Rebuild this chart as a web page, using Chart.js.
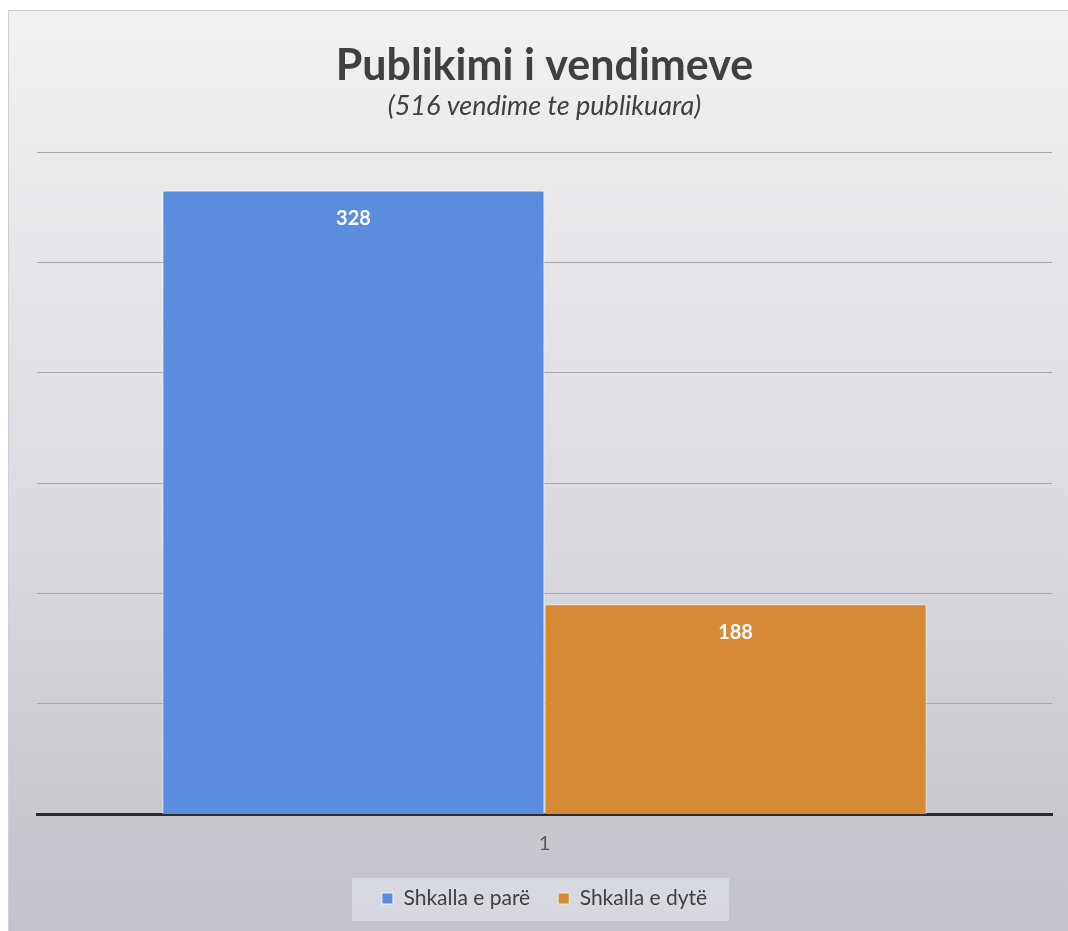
<!DOCTYPE html>
<html>
<head>
<meta charset="utf-8">
<title>Publikimi i vendimeve</title>
<script src="https://cdn.jsdelivr.net/npm/chart.js@4.4.0/dist/chart.umd.min.js"></script>
<style>
  html, body { margin: 0; padding: 0; background: #fff; }
  #wrap { width: 1068px; height: 931px; }
</style>
</head>
<body>
<div id="wrap"><canvas id="myChart" width="1068" height="931"></canvas></div>
<script>
// data
const categories = ['1'];
const seriesNames = ['Shkalla e parë', 'Shkalla e dytë'];
const firstLevel = [328];
const secondLevel = [188];
const chartTitle = 'Publikimi i vendimeve';
const chartSubtitle = '(516 vendime te publikuara)';
// the value axis is hidden and does not start at zero
const axisMin = 117;
const axisMax = 341;
const gridCount = 6;

const blue = 'rgb(91, 141, 222)';
const orange = 'rgb(214, 137, 54)';

// gray paper background + the pale box behind the legend
const backgroundPlugin = {
  id: 'background',
  beforeDraw(chart) {
    const ctx = chart.ctx;
    ctx.save();
    ctx.fillStyle = '#ffffff';
    ctx.fillRect(0, 0, chart.width, chart.height);
    const g = ctx.createLinearGradient(0, 10, 0, chart.height);
    g.addColorStop(0, '#f1f1f3');
    g.addColorStop(0.45, '#dfdfe4');
    g.addColorStop(1, '#c2c3ca');
    ctx.fillStyle = g;
    ctx.fillRect(8, 10, chart.width - 8, chart.height - 10);
    ctx.strokeStyle = '#d0d0d4';
    ctx.lineWidth = 1;
    ctx.strokeRect(8.5, 10.5, chart.width, chart.height);

    const boxes = chart.legend.legendHitBoxes;
    if (boxes && boxes.length) {
      const first = boxes[0];
      const last = boxes[boxes.length - 1];
      ctx.fillStyle = 'rgba(232, 233, 240, 0.55)';
      ctx.fillRect(first.left - 30, first.top - 10, last.left + last.width - first.left + 52, first.height + 22);
    }
    ctx.restore();
  }
};

// white value labels inside the top of each bar
const valueLabels = {
  id: 'valueLabels',
  afterDatasetsDraw(chart) {
    const ctx = chart.ctx;
    ctx.save();
    ctx.fillStyle = '#ffffff';
    ctx.font = 'bold 20px Lato';
    ctx.textAlign = 'center';
    ctx.textBaseline = 'middle';
    chart.data.datasets.forEach((ds, i) => {
      const meta = chart.getDatasetMeta(i);
      meta.data.forEach((bar, j) => {
        ctx.fillText(String(ds.data[j]), bar.x, bar.y + 28);
      });
    });
    ctx.restore();
  }
};

const data = {
  labels: categories,
  datasets: [{
    label: seriesNames[0],
    data: firstLevel,
    backgroundColor: blue,
    borderColor: 'rgba(255,255,255,0.8)',
    borderWidth: 1
  }, {
    label: seriesNames[1],
    data: secondLevel,
    backgroundColor: orange,
    borderColor: 'rgba(255,240,220,0.8)',
    borderWidth: 1
  }]
};

const config = {
  type: 'bar',
  data: data,
  options: {
    responsive: false,
    animation: false,
    categoryPercentage: 0.753,
    barPercentage: 1,
    layout: { padding: { top: 10, left: 37, right: 16, bottom: 12 } },
    scales: {
      x: {
        grid: { display: false, drawTicks: false },
        border: { display: true, color: '#2c2c2e', width: 3 },
        ticks: { color: '#595959', font: { family: 'Lato', size: 20 }, padding: 18 },
        afterFit: (s) => { s.height = 46; }
      },
      y: {
        min: axisMin,
        max: axisMax,
        ticks: { display: false, stepSize: (axisMax - axisMin) / gridCount },
        grid: { color: '#a8a8ac', lineWidth: 1, drawTicks: false },
        border: { display: false },
        afterFit: (s) => { s.width = 0; }
      }
    },
    plugins: {
      title: {
        display: true,
        text: chartTitle,
        color: '#404040',
        font: { family: 'Lato', size: 43, weight: 'bold', lineHeight: 1 },
        padding: { top: 35, bottom: 0 }
      },
      subtitle: {
        display: true,
        text: chartSubtitle,
        color: '#404040',
        font: { family: 'Lato', size: 27, style: 'italic', lineHeight: 1 },
        padding: { top: 5, bottom: 32 }
      },
      legend: {
        position: 'bottom',
        labels: {
          color: '#404040',
          font: { family: 'Lato', size: 21 },
          boxWidth: 11,
          boxHeight: 11,
          padding: 28
        }
      },
      tooltip: { enabled: false }
    }
  },
  plugins: [backgroundPlugin, valueLabels]
};

window.addEventListener('load', () => {
  new Chart(document.getElementById('myChart'), config);
});
</script>
</body>
</html>
